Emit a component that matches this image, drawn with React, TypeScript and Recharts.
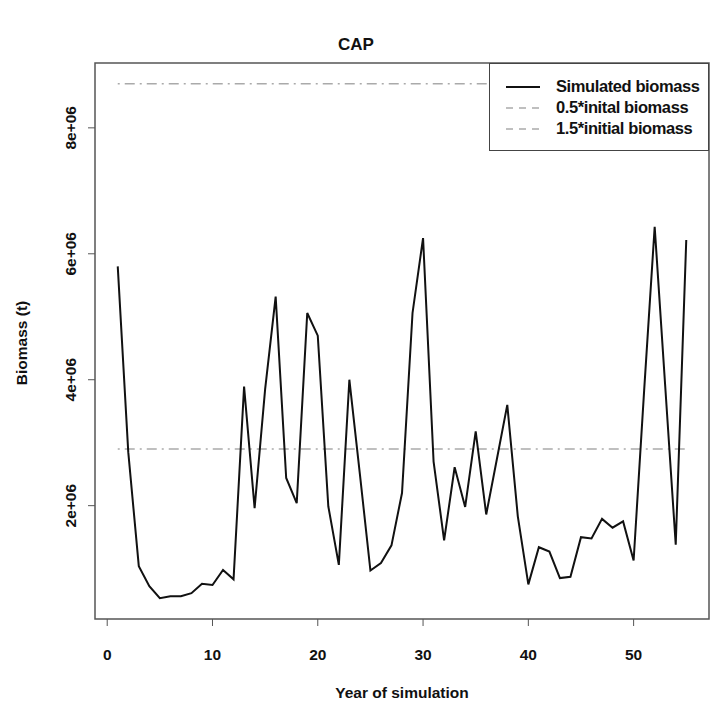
import { LineChart, Line, XAxis, YAxis, ReferenceArea, Legend } from 'recharts'

const years = [
  1, 2, 3, 4, 5, 6, 7, 8, 9, 10, 11, 12, 13, 14, 15, 16, 17, 18, 19, 20,
  21, 22, 23, 24, 25, 26, 27, 28, 29, 30, 31, 32, 33, 34, 35, 36, 37, 38, 39, 40,
  41, 42, 43, 44, 45, 46, 47, 48, 49, 50, 51, 52, 53, 54, 55,
]

// simulated biomass, in tonnes
const biomass = [
  5800000, 2850000, 1040000, 720000, 530000, 560000, 560000, 610000, 760000, 740000,
  980000, 830000, 3890000, 1960000, 3850000, 5320000, 2440000, 2040000, 5060000, 4700000,
  1990000, 1060000, 4000000, 2500000, 970000, 1090000, 1370000, 2200000, 5060000, 6250000,
  2700000, 1450000, 2610000, 1980000, 3180000, 1860000, 2730000, 3600000, 1830000, 750000,
  1340000, 1270000, 850000, 870000, 1500000, 1480000, 1790000, 1650000, 1750000, 1130000,
  3830000, 6430000, 3900000, 1380000, 6220000,
]

const initialBiomass = 5800000
const lowLevel = 0.5 * initialBiomass
const highLevel = 1.5 * initialBiomass

const xTicks = [0, 10, 20, 30, 40, 50]
const yTicks = [2000000, 4000000, 6000000, 8000000]

const seriesNames = ['Simulated biomass', '0.5*inital biomass', '1.5*initial biomass']

const chartData = years.map((year, i) => ({
  year,
  biomass: biomass[i],
  low: lowLevel,
  high: highLevel,
}))

const font = '"Liberation Sans", Arial, sans-serif'
const dash = '2 5 10 5'

const YTick = ({ x, y, payload }: any) => (
  <text
    transform={`translate(${x}, ${y}) rotate(-90)`}
    textAnchor="middle"
    dominantBaseline="central"
    fontSize={15.5}
    fontWeight="bold"
    fill="#111"
    fontFamily={font}
  >
    {`${payload.value / 1000000}e+06`}
  </text>
)

const renderLegend = () => (
  <div
    style={{
      border: '1px solid #444',
      background: '#fff',
      boxSizing: 'border-box',
      width: 220,
      height: 88,
      paddingTop: 12,
      fontFamily: font,
    }}
  >
    {seriesNames.map((name, i) => (
      <div key={name} style={{ display: 'flex', alignItems: 'center', height: 21 }}>
        <svg width={44} height={10} style={{ marginLeft: 16 }}>
          <line
            x1={0}
            x2={34}
            y1={5}
            y2={5}
            stroke={i === 0 ? '#111' : '#aaa'}
            strokeWidth={i === 0 ? 2 : 1.5}
            strokeDasharray={i === 0 ? undefined : '7 6'}
          />
        </svg>
        <span style={{ marginLeft: 6, fontSize: 16.5, fontWeight: 'bold', color: '#111', letterSpacing: -0.4, whiteSpace: 'nowrap' }}>
          {name}
        </span>
      </div>
    ))}
  </div>
)

export default function App() {
  return (
    <div style={{ position: 'absolute', left: 0, top: 0, width: 712, height: 704, background: '#fff', fontFamily: font }}>
      <div style={{ position: 'absolute', top: 35, width: 712, textAlign: 'center', fontSize: 17, fontWeight: 'bold', color: '#111' }}>
        CAP
      </div>
      <div style={{ position: 'absolute', top: 684, left: 95, width: 614, textAlign: 'center', fontSize: 15.5, fontWeight: 'bold', color: '#111' }}>
        Year of simulation
      </div>
      <div
        style={{
          position: 'absolute',
          left: 22,
          top: 343,
          transform: 'translate(-50%, -50%) rotate(-90deg)',
          whiteSpace: 'nowrap',
          fontSize: 15.5,
          fontWeight: 'bold',
          color: '#111',
        }}
      >
        Biomass (t)
      </div>
      <LineChart width={712} height={704} data={chartData} margin={{ top: 63, right: 3, bottom: 0, left: 0 }}>
        <XAxis
          dataKey="year"
          type="number"
          domain={[-1.16, 57.16]}
          ticks={xTicks}
          allowDataOverflow
          height={85}
          axisLine={false}
          tickSize={7}
          tickMargin={23}
          tickLine={{ stroke: '#555' }}
          tick={{ fontSize: 15.5, fontWeight: 'bold', fill: '#111', fontFamily: font }}
        />
        <YAxis
          type="number"
          domain={[200000, 9030000]}
          ticks={yTicks}
          allowDataOverflow
          width={95}
          axisLine={false}
          tickSize={7}
          tickMargin={18}
          tickLine={{ stroke: '#555' }}
          tick={<YTick />}
        />
        <ReferenceArea x1={-1.16} x2={57.16} y1={200000} y2={9030000} fill="none" stroke="#555" strokeWidth={1.5} />
        <Line dataKey="low" stroke="#aaa" strokeWidth={1.5} strokeDasharray={dash} dot={false} isAnimationActive={false} />
        <Line dataKey="high" stroke="#aaa" strokeWidth={1.5} strokeDasharray={dash} dot={false} isAnimationActive={false} />
        <Line dataKey="biomass" stroke="#111" strokeWidth={2} dot={false} isAnimationActive={false} />
        <Legend
          layout="horizontal"
          align="center"
          verticalAlign="middle"
          wrapperStyle={{ top: 63, left: 489, width: 220 }}
          content={renderLegend}
        />
      </LineChart>
    </div>
  )
}
